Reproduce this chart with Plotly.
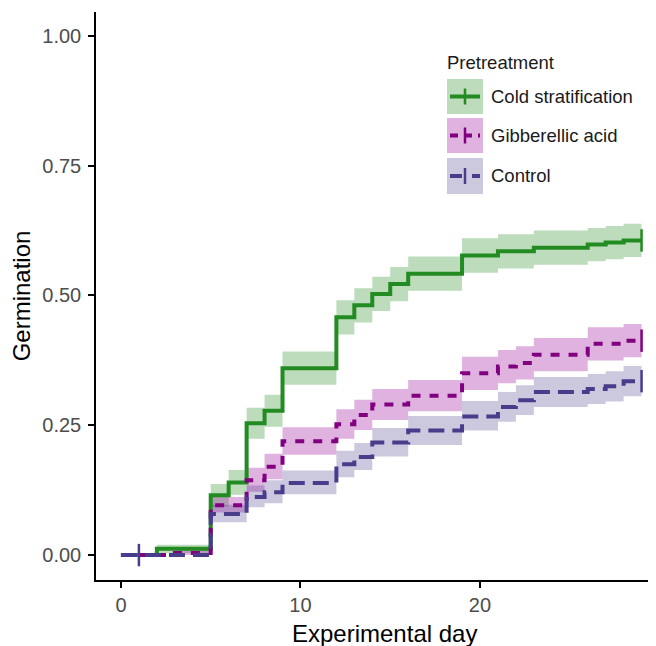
import plotly.graph_objects as go

# ---------------- data ----------------
cold_days = [0, 2, 5, 6, 7, 8, 9, 12, 13, 14, 15, 16, 19, 21, 23, 26, 27, 28, 29]
cold_germ = [0, .012, .115, .140, .254, .278, .360, .458, .481, .503, .522, .542, .577, .585, .592, .598, .602, .606, .606]
cold_low = [0, .004, .093, .116, .224, .247, .328, .425, .448, .470, .489, .509, .544, .552, .559, .566, .570, .574, .574]
cold_up = [0, .020, .137, .164, .284, .309, .392, .491, .514, .536, .555, .575, .610, .618, .625, .630, .634, .638, .638]

gib_days = [0, 3, 5, 7, 8, 9, 12, 13, 14, 16, 19, 21, 22, 23, 26, 28, 29]
gib_germ = [0, .004, .096, .144, .170, .219, .252, .270, .290, .307, .350, .363, .370, .386, .407, .413, .413]
gib_low = [0, .000, .082, .122, .146, .193, .224, .241, .260, .277, .318, .331, .338, .354, .375, .381, .381]
gib_up = [0, .010, .112, .168, .195, .246, .281, .299, .320, .337, .382, .395, .402, .418, .439, .445, .445]

ctrl_days = [0, 5, 7, 8, 9, 12, 13, 14, 16, 19, 21, 22, 23, 26, 27, 28, 29]
ctrl_germ = [0, .079, .112, .121, .139, .175, .189, .217, .240, .267, .285, .298, .314, .320, .325, .335, .335]
ctrl_low = [0, .063, .092, .100, .117, .150, .164, .190, .212, .240, .257, .270, .285, .291, .296, .306, .306]
ctrl_up = [0, .097, .134, .144, .163, .201, .216, .245, .268, .297, .314, .327, .343, .349, .354, .364, .364]

cold_censor_days = [29]
cold_censor_germ = [0.606]
gib_censor_days = [29]
gib_censor_germ = [0.413]
ctrl_censor_days = [1, 29]
ctrl_censor_germ = [0.0, 0.335]

series_names = ["Cold stratification", "Gibberellic acid", "Control"]
x_ticks = [0, 10, 20]
y_ticks = [0.0, 0.25, 0.5, 0.75, 1.0]

# ---------------- styles ----------------
line_cols = ["rgb(34,139,34)", "rgb(128,0,128)", "rgb(72,61,139)"]
band_cols = ["rgba(34,139,34,0.30)", "rgba(160,30,160,0.34)", "rgba(72,61,139,0.28)"]
dashes = ["solid", "9px,9px", "16px,8px"]

series = [
    (cold_days, cold_germ, cold_low, cold_up, cold_censor_days, cold_censor_germ),
    (gib_days, gib_germ, gib_low, gib_up, gib_censor_days, gib_censor_germ),
    (ctrl_days, ctrl_germ, ctrl_low, ctrl_up, ctrl_censor_days, ctrl_censor_germ),
]

fig = go.Figure()

# ribbons
for i, (d, g, lo, up, cd, cg) in enumerate(series):
    fig.add_trace(go.Scatter(x=d, y=lo, mode="lines", line=dict(width=0, shape="hv"),
                             showlegend=False, hoverinfo="skip"))
    fig.add_trace(go.Scatter(x=d, y=up, mode="lines", line=dict(width=0, shape="hv"),
                             fill="tonexty", fillcolor=band_cols[i],
                             showlegend=False, hoverinfo="skip"))

# step lines
for i, (d, g, lo, up, cd, cg) in enumerate(series):
    fig.add_trace(go.Scatter(x=d, y=g, mode="lines", name=series_names[i],
                             line=dict(color=line_cols[i], width=4, shape="hv", dash=dashes[i]),
                             showlegend=False))
    fig.add_trace(go.Scatter(x=cd, y=cg, mode="markers", showlegend=False,
                             marker=dict(symbol="line-ns", size=16,
                                         line=dict(color=line_cols[i], width=2.5))))

# ---------------- layout ----------------
# page body has an 8px margin, so the figure starts at (8, 8) of the window
OFF = 8
W, H = 648, 638
ML, MR, MT, MB = 88, 6, 4, 66
PW, PH = W - ML - MR, H - MT - MB


def px(x):
    return (x - OFF - ML) / PW


def py(y):
    return (H - MB - (y - OFF)) / PH


shapes = []
annots = []
legend_rows = [(79, 114), (118, 153), (158, 194)]
for i, (y0, y1) in enumerate(legend_rows):
    shapes.append(dict(type="rect", xref="paper", yref="paper",
                       x0=px(447), x1=px(483), y0=py(y1), y1=py(y0),
                       fillcolor=band_cols[i], line=dict(width=0), layer="above"))
    ym = (y0 + y1) / 2
    shapes.append(dict(type="line", xref="paper", yref="paper",
                       x0=px(450), x1=px(480), y0=py(ym), y1=py(ym),
                       line=dict(color=line_cols[i], width=4,
                                 dash=["solid", "8px,6px", "12px,10px"][i]), layer="above"))
    shapes.append(dict(type="line", xref="paper", yref="paper",
                       x0=px(465), x1=px(465), y0=py(ym - 8), y1=py(ym + 8),
                       line=dict(color=line_cols[i], width=2.5), layer="above"))
    annots.append(dict(xref="paper", yref="paper", x=px(489), y=py(ym),
                       text=series_names[i], showarrow=False, xanchor="left",
                       yanchor="middle", font=dict(size=18.5, color="#1a1a1a")))
annots.append(dict(xref="paper", yref="paper", x=px(445), y=py(62),
                   text="Pretreatment", showarrow=False, xanchor="left",
                   yanchor="middle", font=dict(size=18.5, color="#1a1a1a")))
# x-axis title (centred like the original, whose panel ran past the right edge)
annots.append(dict(xref="paper", yref="paper", x=px(384), y=py(633),
                   text="Experimental day", showarrow=False, xanchor="center",
                   yanchor="middle", font=dict(size=24, color="black")))

font_family = "Liberation Sans, Arial, sans-serif"
fig.update_layout(
    width=W, height=H,
    margin=dict(l=ML, r=MR, t=MT, b=MB),
    paper_bgcolor="white", plot_bgcolor="white",
    font=dict(family=font_family),
    shapes=shapes, annotations=annots,
    showlegend=False,
    xaxis=dict(range=[-1.39, 29.47], tickvals=x_ticks, ticktext=[str(v) for v in x_ticks],
               showline=True, linecolor="black", linewidth=1.5,
               ticks="outside", ticklen=6, tickwidth=1.5, tickcolor="black",
               showgrid=False, zeroline=False,
               tickfont=dict(size=20, color="#4d4d4d")),
    yaxis=dict(range=[-0.048, 1.046], tickvals=y_ticks, ticktext=[f"{v:.2f}" for v in y_ticks],
               showline=True, linecolor="black", linewidth=1.5,
               ticks="outside", ticklen=6, tickwidth=1.5, tickcolor="black",
               showgrid=False, zeroline=False, ticklabelstandoff=3,
               tickfont=dict(size=20, color="#4d4d4d"),
               title=dict(text="Germination", font=dict(size=24, color="black"), standoff=8)),
)

fig.write_html("out.html")
